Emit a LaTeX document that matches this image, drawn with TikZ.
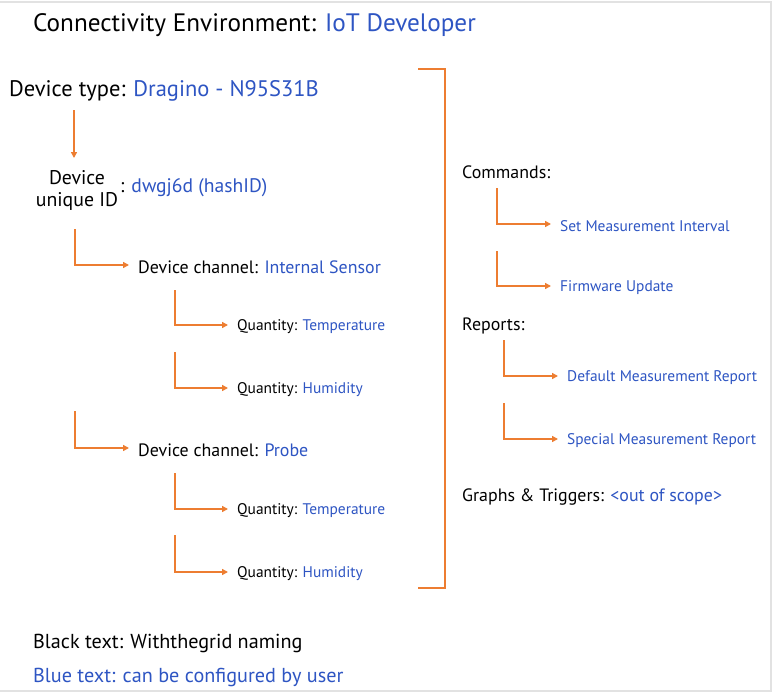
\documentclass[tikz,border=0pt]{standalone}
\usepackage{fontspec}
\setmainfont{PT Sans}
\usetikzlibrary{arrows.meta}
\definecolor{myblue}{HTML}{2E55C3}
\definecolor{myorange}{HTML}{ED7D31}
\definecolor{mygray}{HTML}{E2E2E2}
\tikzset{
  txt/.style={anchor=west,inner sep=0pt,text=black,yshift=-2pt},
  conn/.style={draw=myorange,line width=1.6pt,-{Triangle[length=6pt,width=6pt]}},
  brk/.style={draw=myorange,line width=1.6pt},
  bd/.style={draw=mygray,line width=1.2pt},
  fbig/.style={font=\fontsize{22.5}{26}\selectfont},
  fmid/.style={font=\fontsize{17.9}{21}\selectfont},
  fsmall/.style={font=\fontsize{15.4}{18}\selectfont},
}
\newcommand{\bl}[1]{\textcolor{myblue}{#1}}
\begin{document}
\begin{tikzpicture}[x=1pt,y=-1pt]
\useasboundingbox (0,0) rectangle (773,693);
\fill[white] (0,0) rectangle (773,693);
% border
\coordinate (b1) at (0,2); \coordinate (b2) at (771,2);
\coordinate (b3) at (771,691); \coordinate (b4) at (0,691);
\draw[bd] (b1) -- (b2) -- (b3) -- (b4);
% title
\node[txt,font=\fontsize{25.2}{28}\selectfont,yshift=-1pt] (title) at (33,22) {Connectivity Environment: \bl{IoT Developer}};
% left tree
\node[txt,fbig] (dtype) at (9,89) {Device type: \bl{Dragino - N95S31B}};
\node[anchor=center,inner sep=0pt,align=center,font=\fontsize{19.8}{22}\selectfont] (uid) at (77,190) {Device\\unique ID};
\node[txt,font=\fontsize{19.6}{22}\selectfont] (hash) at (120,186) {: \bl{dwgj6d (hashID)}};
\node[txt,fmid] (ch1) at (138,265) {Device channel: \bl{Internal Sensor}};
\node[txt,fsmall] (q1) at (237,325) {Quantity: \bl{Temperature}};
\node[txt,fsmall] (q2) at (237,388) {Quantity: \bl{Humidity}};
\node[txt,fmid] (ch2) at (138,448) {Device channel: \bl{Probe}};
\node[txt,fsmall] (q3) at (237,509) {Quantity: \bl{Temperature}};
\node[txt,fsmall] (q4) at (237,572) {Quantity: \bl{Humidity}};
% connectors left
\coordinate (s0) at (74,110);
\coordinate (e0) at (74,158);
\draw[conn] (s0) -- (e0);
\coordinate (s1) at (75,229);
\draw[conn,shorten >=9pt] (s1) |- ([yshift=2pt]ch1.west);
\coordinate (s2) at (175,290);
\draw[conn,shorten >=9pt] (s2) |- ([yshift=2pt]q1.west);
\coordinate (s3) at (175,352);
\draw[conn,shorten >=9pt] (s3) |- ([yshift=2pt]q2.west);
\coordinate (s4) at (75,411);
\draw[conn,shorten >=9pt] (s4) |- ([yshift=2pt]ch2.west);
\coordinate (s5) at (175,473);
\draw[conn,shorten >=9pt] (s5) |- ([yshift=2pt]q3.west);
\coordinate (s6) at (175,535);
\draw[conn,shorten >=9pt] (s6) |- ([yshift=2pt]q4.west);
% bracket
\coordinate (k1) at (418,69); \coordinate (k2) at (445,69);
\coordinate (k3) at (445,588); \coordinate (k4) at (418,588);
\draw[brk] (k1) -- (k2) -- (k3) -- (k4);
% right side
\node[txt,fmid] (cmd) at (462,170) {Commands:};
\node[txt,fsmall] (c1) at (560,224) {\bl{Set Measurement Interval}};
\node[txt,fsmall] (c2) at (560,286) {\bl{Firmware Update}};
\node[txt,fmid] (rep) at (462,324) {Reports:};
\node[txt,fsmall] (r1) at (567,376) {\bl{Default Measurement Report}};
\node[txt,fsmall] (r2) at (567,439) {\bl{Special Measurement Report}};
\node[txt,fmid] (gt) at (462,495) {Graphs \& Triggers: \bl{<out of scope>}};
\coordinate (t1) at (497,188);
\draw[conn,shorten >=9pt] (t1) |- ([yshift=2pt]c1.west);
\coordinate (t2) at (497,251);
\draw[conn,shorten >=9pt] (t2) |- ([yshift=2pt]c2.west);
\coordinate (t3) at (504,340);
\draw[conn,shorten >=9pt] (t3) |- ([yshift=2pt]r1.west);
\coordinate (t4) at (504,403);
\draw[conn,shorten >=9pt] (t4) |- ([yshift=2pt]r2.west);
% legend
\node[txt,font=\fontsize{20.2}{23}\selectfont] (lg1) at (33,641) {Black text: Withthegrid naming};
\node[txt,font=\fontsize{20.2}{23}\selectfont,text=myblue] (lg2) at (33,675) {Blue text: can be configured by user};
\end{tikzpicture}
\end{document}
